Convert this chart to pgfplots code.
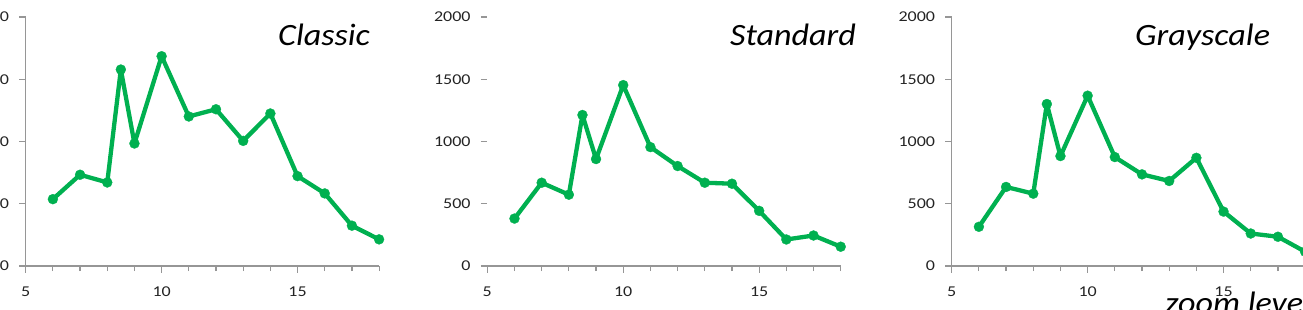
\documentclass[border=0pt]{standalone}
\usepackage{fontspec}
\setmainfont{Carlito}
\newfontfamily\tickfont[FakeStretch=1.2]{Carlito}
\newfontfamily\titlefont[FakeStretch=1.1]{Carlito}
\usepackage{pgfplots}
\pgfplotsset{compat=1.18}
\definecolor{lg}{RGB}{0,176,80}
\definecolor{axgray}{RGB}{150,150,150}
\definecolor{ticktext}{RGB}{35,35,35}
\pgfplotsset{panel/.style={
  scale only axis, width=353.4pt, height=249pt, anchor=south west,
  xmin=5, xmax=18, ymin=0, ymax=2000,
  axis x line*=bottom, axis y line*=left,
  axis line style={draw=axgray, line width=1.2pt},
  xtick={5,10,15}, minor xtick={6,...,18},
  ytick={0,500,...,2000},
  tick align=outside,
  major tick length=6.5pt, minor tick length=5pt,
  every tick/.style={draw=axgray, line width=1.2pt},
  /pgf/number format/assume math mode=true,
  /pgf/number format/set thousands separator={},
  tick label style={font=\tickfont\fontsize{15}{15}\selectfont, text=ticktext, inner sep=0pt},
  xticklabel style={yshift=-14pt},
  yticklabel style={xshift=-10pt},
  clip=false,
}}
\pgfplotsset{series/.style={lg, line width=4.3pt, line join=round, mark=*, mark size=5pt, mark options={solid, fill=lg, draw=lg, line width=0.3pt}}}
\begin{document}
\begin{tikzpicture}
\begin{axis}[panel, at={(25.7pt,43pt)}]
\addplot[series] coordinates {(6,537) (7,733) (8,671) (8.5,1578) (9,984) (10,1685) (11,1201) (12,1259) (13,1005) (14,1225) (15,722) (16,583) (17,324) (18,214)};
\end{axis}
\begin{axis}[panel, at={(487.3pt,43pt)}, y axis line style={draw=none}]
\addplot[series] coordinates {(6,381) (7,669) (8,573) (8.5,1213) (9,859) (10,1453) (11,955) (12,803) (13,669) (14,661) (15,443) (16,213) (17,245) (18,155)};
\end{axis}
\begin{axis}[panel, at={(951.7pt,43pt)}]
\addplot[series] coordinates {(6,315) (7,635) (8,581) (8.5,1301) (9,883) (10,1368) (11,875) (12,736) (13,683) (14,869) (15,437) (16,261) (17,235) (18,115)};
\end{axis}
\begin{scope}[every node/.style={inner sep=0pt, anchor=base west, font=\titlefont\itshape\fontsize{31}{31}\selectfont}]
\node at (278pt,264pt) {Classic};
\node at (730pt,264pt) {Standard};
\node at (1135pt,264pt) {Grayscale};
\node at (1165pt,-4pt) {zoom levels};
\end{scope}
\pgfresetboundingbox
\useasboundingbox (0,0) rectangle (1303pt,309pt);
\end{tikzpicture}
\end{document}
